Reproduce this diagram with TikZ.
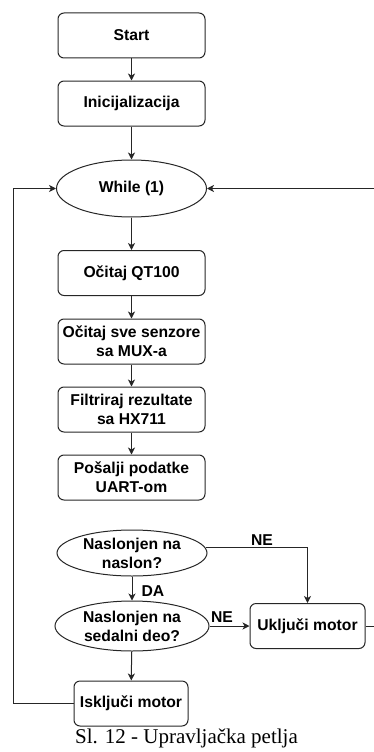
\documentclass[tikz,border=0pt]{standalone}
\usepackage{fontspec}
\setmainfont{Liberation Sans}
\newfontfamily\capfont{Liberation Serif}
\usetikzlibrary{shapes.geometric,arrows.meta}
\definecolor{ln}{HTML}{262626}
\tikzset{
  x=1pt, y=-1pt,
  base/.style={draw=ln, line width=1pt, font=\fontsize{15.7}{19}\selectfont\bfseries, text=black, align=center, inner sep=1pt},
  proc/.style={base, rounded corners=6pt, minimum width=147pt, minimum height=45pt},
  dec/.style={base, ellipse, inner sep=0pt},
  conn/.style={draw=ln, line width=1pt},
  arr/.style={conn, -{Stealth[length=7pt,width=7pt,inset=2pt]}},
  lbl/.style={font=\fontsize{15.7}{19}\selectfont\bfseries, text=black, inner sep=0pt}
}
\begin{document}
\begin{tikzpicture}
\useasboundingbox (0,0) rectangle (373,752);
\node[proc] (start) at (131.5,35.5) {Start};
\node[proc] (init) at (131.5,103.5) {Inicijalizacija};
\node[dec, minimum width=150pt, minimum height=57pt] (while) at (131.5,188.5) {While (1)};
\node[proc] (qt) at (131.5,273) {Očitaj QT100};
\node[proc] (mux) at (131.5,341.5) {Očitaj sve senzore\\sa MUX-a};
\node[proc] (hx) at (131.5,409.5) {Filtriraj rezultate\\sa HX711};
\node[proc] (uart) at (131.5,477.5) {Pošalji podatke\\UART-om};
\node[dec, minimum width=150pt, minimum height=46pt] (e1) at (132,553) {Naslonjen na\\naslon?};
\node[dec, minimum width=154pt, minimum height=50pt] (e2) at (132,626) {Naslonjen na\\sedalni deo?};
\node[proc, minimum width=115pt] (uk) at (307.5,626) {Uključi motor};
\node[proc, minimum width=114pt] (isk) at (131,703.5) {Isključi motor};
\coordinate (L) at (13,188.5);
\coordinate (R) at (374.5,188.5);
\draw[arr] (start) -- (init);
\draw[arr] (init) -- (while);
\draw[arr] (while) -- (qt);
\draw[arr] (qt) -- (mux);
\draw[arr] (mux) -- (hx);
\draw[arr] (hx) -- (uart);
\draw[arr] (e1.4) -| (uk.north);
\draw[arr] (e1) -- (e2);
\draw[arr] (e2) -- (uk);
\draw[arr] (e2) -- (isk);
\draw[arr] (isk.west) -| (L) -- (while.west);
\draw[arr] (uk.east) -| (R) -- (while.east);
\node[lbl] (ne1) at (262,540) {NE};
\node[lbl] (da) at (153,591) {DA};
\node[lbl] (ne2) at (222,617) {NE};
\node[font=\capfont\fontsize{21}{24}\selectfont, anchor=base, inner sep=0pt] (cap) at (186.5,743) {Sl. 12 - Upravljačka petlja};
\end{tikzpicture}
\end{document}
